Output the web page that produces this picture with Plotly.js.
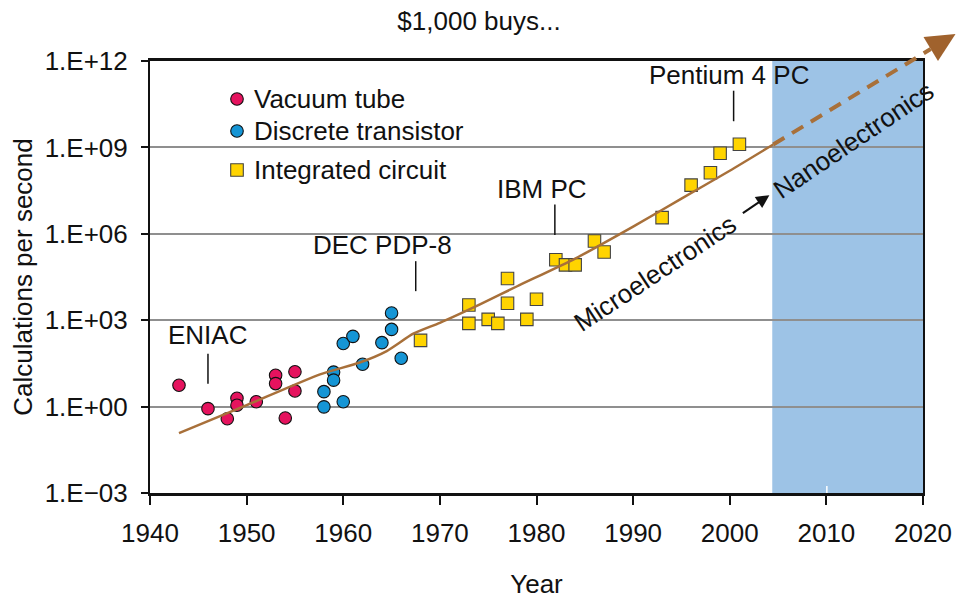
<!DOCTYPE html>
<html>
<head>
<meta charset="utf-8">
<script src="https://cdn.plot.ly/plotly-3.0.1.min.js"></script>
<style>
html,body{margin:0;padding:0;background:#fff;}
#chart{width:958px;height:599px;}
</style>
</head>
<body>
<div id="chart"></div>
<script>
// ---- data ----
const vacuumYears  = [1943, 1946, 1948, 1949, 1949, 1951, 1953, 1953, 1954, 1955, 1955];
const vacuumValues = [5.5, 0.85, 0.38, 1.95, 1.12, 1.48, 12.3, 6.3, 0.40, 16.2, 3.5];

const transistorYears  = [1958, 1958, 1959, 1959, 1960, 1960, 1961, 1962, 1964, 1965, 1965, 1966];
const transistorValues = [3.3, 0.98, 15.8, 8.3, 1.48, 155, 275, 29.5, 166, 479, 1780, 47.9];

const icYears  = [1968, 1973, 1973, 1975, 1976, 1977, 1977, 1979, 1980, 1982, 1983, 1984, 1986, 1987, 1993, 1996, 1998, 1999, 2001];
const icValues = [200, 3390, 776, 1070, 776, 28200, 3890, 1070, 5370, 126000, 83200, 83200, 562000, 234000, 3.63e6, 4.9e7, 1.32e8, 6.3e8, 1.29e9];

const trendYears  = [1943, 1950, 1957.6, 1961.7, 1964.5, 1967.25, 1970, 1974.15, 1978, 1984, 1990, 1995, 2000, 2004.5];
const trendValues = [0.12, 1.12, 13.2, 33.9, 85, 339, 813, 3550, 15100, 138000, 1.78e6, 1.66e7, 1.55e8, 1.26e9];

const projYears  = [2004.5, 2020.8];
const projValues = [1.26e9, 2.6e12];

const nanoStartYear = 2004.4;

const milestoneNames      = ['ENIAC', 'DEC PDP-8', 'IBM PC', 'Pentium 4 PC'];
const milestoneLineYears  = [1946, 1967.5, 1981.9, 2000.4];
const milestoneLineLow    = [6.2, 10200, 912000, 8.1e9];
const milestoneLineHigh   = [68, 112000, 1.05e7, 9.3e10];
const milestoneTextYears  = [1946, 1964.1, 1980.6, 1999.9];
const milestoneTextValues = [309, 417000, 3.55e7, 3.16e11];

const seriesNames = ['Vacuum tube', 'Discrete transistor', 'Integrated circuit'];
const tickValues = [1e-3, 1, 1e3, 1e6, 1e9, 1e12];
const tickLabels = ['1.E\u221203', '1.E+00', '1.E+03', '1.E+06', '1.E+09', '1.E+12'];
const xTicks = [1940, 1950, 1960, 1970, 1980, 1990, 2000, 2010, 2020];

// ---- style ----
const FONT = 'Liberation Sans, Arial, Helvetica, sans-serif';
const FS = 26;
const BROWN = '#A8703A';
const seriesColors = ['#E5135E', '#1595D5', '#FFD400'];
const seriesSymbols = ['circle', 'circle', 'square'];
const seriesLines = ['#111', '#111', '#444'];
const margin = {l: 150, r: 35, t: 61, b: 106};
const W = 958 - margin.l - margin.r;
const H = 599 - margin.t - margin.b;
const xRange = [1940, 2020];
const yRange = [-3, 12];

function pxX(year) { return (year - xRange[0]) / (xRange[1] - xRange[0]) * W; }
function pxY(v) { return (Math.log10(v) - yRange[0]) / (yRange[1] - yRange[0]) * H; }
// page pixel -> paper fraction (for the hand-placed legend)
function paperX(px) { return (px - margin.l) / W; }
function paperY(py) { return (margin.t + H - py) / H; }

const seriesX = [vacuumYears, transistorYears, icYears];
const seriesY = [vacuumValues, transistorValues, icValues];

const traces = seriesNames.map((name, i) => ({
  x: seriesX[i], y: seriesY[i], type: 'scatter', mode: 'markers', name: name, showlegend: false,
  marker: {symbol: seriesSymbols[i], size: 12.5, color: seriesColors[i], line: {color: seriesLines[i], width: 1.1}},
  hoverinfo: 'x+y'
}));
traces.push({x: trendYears, y: trendValues, type: 'scatter', mode: 'lines', showlegend: false, hoverinfo: 'skip',
   line: {color: BROWN, width: 2.5, shape: 'spline', smoothing: 0.6}});

for (let i = 0; i < milestoneNames.length; i++) {
  traces.push({x: [milestoneLineYears[i], milestoneLineYears[i]], y: [milestoneLineLow[i], milestoneLineHigh[i]],
    type: 'scatter', mode: 'lines', showlegend: false, hoverinfo: 'skip', line: {color: '#111', width: 1.5}});
}

const annotations = milestoneNames.map((name, i) => ({
  x: milestoneTextYears[i], y: Math.log10(milestoneTextValues[i]), xref: 'x', yref: 'y',
  text: name, showarrow: false, xanchor: 'center', yanchor: 'middle',
  font: {family: FONT, size: FS, color: '#111'}
}));

annotations.push({x: 1992.3, y: Math.log10(4.4e4), xref: 'x', yref: 'y', text: 'Microelectronics',
  showarrow: false, textangle: -33.5, font: {family: FONT, size: FS, color: '#111'}});
annotations.push({x: 2012.8, y: Math.log10(1.86e9), xref: 'x', yref: 'y', text: 'Nanoelectronics',
  showarrow: false, textangle: -34, font: {family: FONT, size: FS, color: '#111'}});
annotations.push({x: 2004.1, y: Math.log10(2.2e7), xref: 'x', yref: 'y', text: '', showarrow: true,
  ax: -28, ay: 19, arrowhead: 2, arrowsize: 1.2, arrowwidth: 2.2, arrowcolor: '#111', standoff: 0});

// legend (placed like the reference)
const legendRowsY = [99, 131, 170];
const legendSymX = 237, legendTextX = 252;
seriesNames.forEach((name, i) => {
  annotations.push({x: paperX(legendTextX), y: paperY(legendRowsY[i]), xref: 'paper', yref: 'paper',
    text: name, showarrow: false, xanchor: 'left', yanchor: 'middle', font: {family: FONT, size: FS, color: '#111'}});
});

// projection dashed line + arrowhead (paper coords, from data)
const x0 = pxX(projYears[0]), y0 = pxY(projValues[0]);
const x1 = pxX(projYears[1]), y1 = pxY(projValues[1]);
const len = Math.hypot(x1 - x0, y1 - y0);
const ux = (x1 - x0) / len, uy = (y1 - y0) / len;
const nx = -uy, ny = ux;
const headLen = 29, headHalf = 14;
const tip = [x1 + ux * headLen, y1 + uy * headLen];
const c1 = [x1 + nx * headHalf, y1 + ny * headHalf];
const c2 = [x1 - nx * headHalf, y1 - ny * headHalf];
function P(p) { return (p[0] / W).toFixed(5) + ',' + (p[1] / H).toFixed(5); }

const shapes = [
  {type: 'rect', xref: 'x', yref: 'paper', x0: nanoStartYear, x1: 2020, y0: 0, y1: 1,
   fillcolor: '#9DC3E6', line: {width: 0}, layer: 'below'},
  {type: 'line', xref: 'x', yref: 'paper', x0: 2010.05, x1: 2010.05, y0: 0, y1: 7 / H,
   line: {color: '#ffffff', width: 1.5}},
  {type: 'line', xref: 'paper', yref: 'paper', x0: x0 / W, y0: y0 / H, x1: x1 / W, y1: y1 / H,
   line: {color: BROWN, width: 4, dash: '13px,9px'}},
  {type: 'path', xref: 'paper', yref: 'paper', path: 'M' + P(c1) + 'L' + P(tip) + 'L' + P(c2) + 'Z',
   fillcolor: '#A0622D', line: {width: 0}}
];

seriesNames.forEach((name, i) => {
  const r = 6.3;
  shapes.push({type: seriesSymbols[i] === 'circle' ? 'circle' : 'rect', xref: 'paper', yref: 'paper',
    xsizemode: 'pixel', ysizemode: 'pixel', xanchor: paperX(legendSymX), yanchor: paperY(legendRowsY[i]),
    x0: -r, x1: r, y0: -r, y1: r, fillcolor: seriesColors[i], line: {color: seriesLines[i], width: 1.1}});
});

const layout = {
  width: 958, height: 599, margin: margin,
  paper_bgcolor: '#fff', plot_bgcolor: 'rgba(0,0,0,0)',
  font: {family: FONT, size: FS, color: '#111'},
  title: {text: '$1,000 buys...', xref: 'container', x: 0.5, xanchor: 'center', yref: 'container', y: 0.965, yanchor: 'middle',
          font: {family: FONT, size: FS, color: '#111'}},
  showlegend: false,
  xaxis: {range: xRange, tickvals: xTicks, ticktext: xTicks.map(String), ticks: 'outside', ticklen: 9, tickwidth: 1.5,
          tickcolor: '#111', showline: true, linecolor: '#111', linewidth: 3, mirror: true, showgrid: false, zeroline: false,
          ticklabelstandoff: 6, tickfont: {family: FONT, size: FS, color: '#111'},
          title: {text: 'Year', standoff: 29, font: {family: FONT, size: FS, color: '#111'}}, fixedrange: true},
  yaxis: {type: 'log', range: yRange, tickvals: tickValues, ticktext: tickLabels, ticks: 'outside', ticklen: 7, tickwidth: 1.5,
          tickcolor: '#111', showline: true, linecolor: '#111', linewidth: 2, mirror: true, showgrid: true,
          gridcolor: '#8f8f8f', gridwidth: 1.5, zeroline: false, ticklabelstandoff: 8,
          tickfont: {family: FONT, size: FS, color: '#111'},
          title: {text: 'Calculations per second', standoff: 5, font: {family: FONT, size: FS, color: '#111'}}, fixedrange: true},
  annotations: annotations,
  shapes: shapes,
  hovermode: 'closest'
};

Plotly.newPlot('chart', traces, layout, {displayModeBar: false});
</script>
</body>
</html>
